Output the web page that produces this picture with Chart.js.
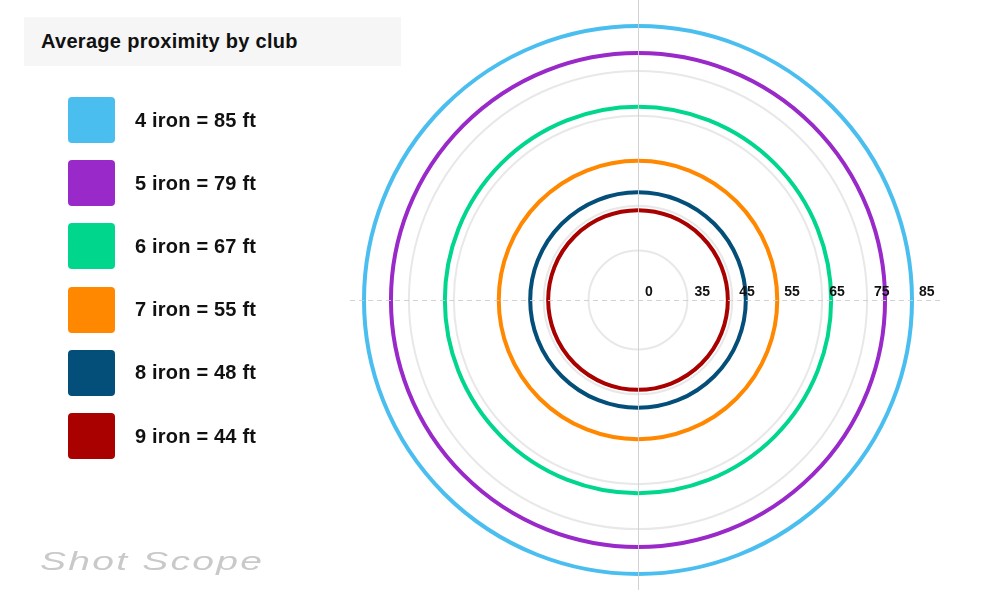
<!DOCTYPE html>
<html>
<head>
<meta charset="utf-8">
<script src="https://cdn.jsdelivr.net/npm/chart.js@4/dist/chart.umd.min.js"></script>
<style>
  html, body { margin: 0; padding: 0; background: #ffffff; }
  #wrap { position: relative; width: 1000px; height: 600px; overflow: hidden; font-family: "Liberation Sans", Arial, Helvetica, sans-serif; }
  #chart { position: absolute; left: 0; top: 0; }
  #title { position: absolute; left: 24px; top: 17px; width: 377px; height: 49px; background: #f6f6f6;
           display: flex; align-items: center; box-sizing: border-box; padding-left: 17px;
           font-weight: bold; font-size: 20px; color: #111; letter-spacing: 0.3px; }
  .row { position: absolute; left: 68px; height: 46px; display: flex; align-items: center; }
  .sw { width: 47px; height: 46px; border-radius: 4px; }
  .lbl { margin-left: 20px; font-weight: bold; font-size: 20px; color: #111; letter-spacing: 0.2px; }
  #brand { position: absolute; left: 40px; top: 546px; font-style: italic; font-size: 26px; color: #c9c9c9;
           letter-spacing: 1.5px; transform: scaleX(1.5); transform-origin: 0 0; white-space: nowrap; }
</style>
</head>
<body>
<div id="wrap">
  <canvas id="chart" width="1000" height="600"></canvas>
  <div id="title">Average proximity by club</div>
  <div id="legend"></div>
  <div id="brand">Shot Scope</div>
</div>
<script>
// ---- data ----
const clubs = ['4 iron', '5 iron', '6 iron', '7 iron', '8 iron', '9 iron'];
const proximityFt = [85, 79, 67, 55, 48, 44];
const clubColors = ['#4bbef0', '#9929c8', '#00d68c', '#ff8800', '#044e7a', '#a90000'];
const tickValues = [24, 35, 45, 55, 65, 75, 85];
const tickLabels = ['0', '35', '45', '55', '65', '75', '85'];

// ---- HTML legend ----
const legend = document.getElementById('legend');
clubs.forEach((c, i) => {
  const row = document.createElement('div');
  row.className = 'row';
  row.style.top = (97 + i * 63.2) + 'px';
  const sw = document.createElement('div');
  sw.className = 'sw';
  sw.style.background = clubColors[i];
  const lbl = document.createElement('div');
  lbl.className = 'lbl';
  lbl.textContent = c + ' = ' + proximityFt[i] + ' ft';
  row.appendChild(sw); row.appendChild(lbl);
  legend.appendChild(row);
});

// ---- plugin: rings from arc elements, axis cross lines, tick labels ----
const ringsCrossLabels = {
  id: 'ringsCrossLabels',
  afterDatasetsDraw(chart) {
    const s = chart.scales.r;
    const ctx = chart.ctx;
    const cx = s.xCenter, cy = s.yCenter, R = s.drawingArea;
    ctx.save();
    // rings: geometry taken from the polar-area arc elements
    for (let i = chart.data.datasets.length - 1; i >= 0; i--) {
      const ds = chart.data.datasets[i];
      const el = chart.getDatasetMeta(i).data[0];
      ctx.beginPath();
      ctx.arc(el.x, el.y, el.outerRadius, 0, Math.PI * 2);
      ctx.strokeStyle = ds.ringColor;
      ctx.lineWidth = ds.ringWidth;
      ctx.stroke();
    }
    // cross lines
    ctx.strokeStyle = 'rgba(205,205,205,0.9)';
    ctx.lineWidth = 1;
    ctx.beginPath();
    ctx.moveTo(cx + 0.5, cy - R - 26);
    ctx.lineTo(cx + 0.5, cy + R + 16);
    ctx.stroke();
    ctx.setLineDash([5, 4]);
    ctx.beginPath();
    ctx.moveTo(cx - R - 14, cy + 0.5);
    ctx.lineTo(cx + R + 30, cy + 0.5);
    ctx.stroke();
    ctx.setLineDash([]);
    // tick labels along the horizontal axis
    ctx.fillStyle = '#111';
    ctx.font = 'bold 14px "Liberation Sans", Arial, sans-serif';
    ctx.textAlign = 'left';
    ctx.textBaseline = 'middle';
    s.ticks.forEach((t, i) => {
      const d = s.getDistanceFromCenterForValue(t.value);
      ctx.fillText(tickLabels[i], cx + d + 7, cy - 8);
    });
    ctx.restore();
  }
};

new Chart(document.getElementById('chart'), {
  type: 'polarArea',
  data: {
    labels: [''],
    datasets: clubs.map((c, i) => ({
      label: c,
      data: [proximityFt[i]],
      backgroundColor: 'rgba(0,0,0,0)',
      borderWidth: 0,
      ringColor: clubColors[i],
      ringWidth: 4
    }))
  },
  options: {
    responsive: false,
    animation: false,
    layout: { padding: { left: 364, right: 88, top: 26, bottom: 26 } },
    plugins: { legend: { display: false }, tooltip: { enabled: false } },
    scales: {
      r: {
        min: tickValues[0],
        max: tickValues[tickValues.length - 1],
        ticks: { display: false },
        angleLines: { display: false },
        pointLabels: { display: false },
        grid: { color: '#e8e8e8', lineWidth: 2, circular: true },
        afterBuildTicks: (scale) => { scale.ticks = tickValues.map(v => ({ value: v })); }
      }
    }
  },
  plugins: [ringsCrossLabels]
});
</script>
</body>
</html>
